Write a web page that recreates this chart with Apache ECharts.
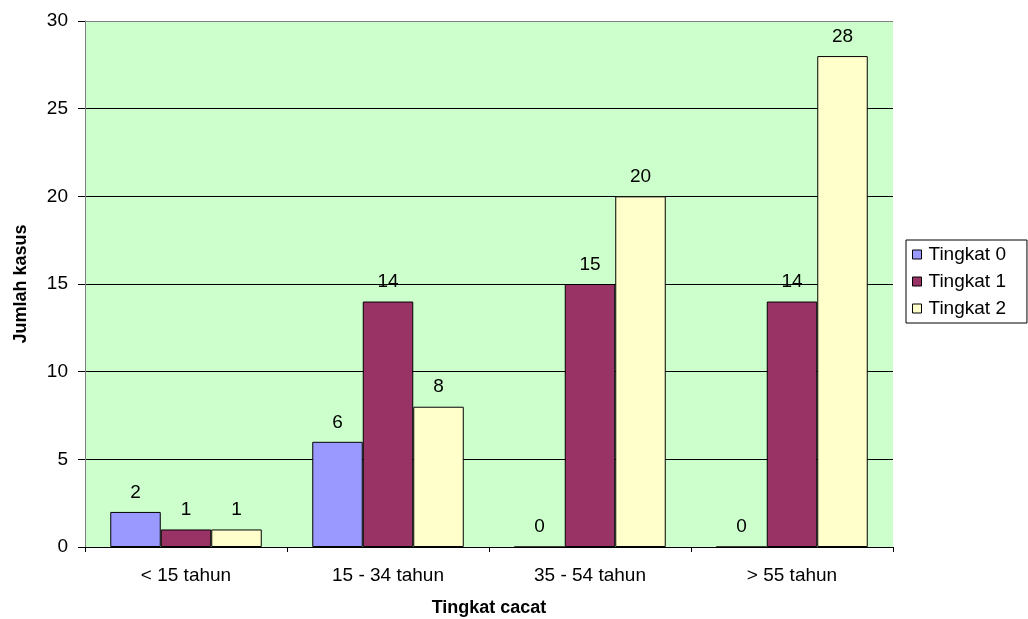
<!DOCTYPE html>
<html>
<head>
<meta charset="utf-8">
<script src="https://cdn.jsdelivr.net/npm/echarts@6/dist/echarts.min.js"></script>
<style>
  html, body { margin: 0; padding: 0; background: #fff; }
  #chart { width: 1028px; height: 619px; }
</style>
</head>
<body>
<div id="chart"></div>
<script>
// Age groups on the x axis
const categories = ['< 15 tahun', '15 - 34 tahun', '35 - 54 tahun', '> 55 tahun'];
// Case counts per disability grade
const tingkat0 = [2, 6, 0, 0];
const tingkat1 = [1, 14, 15, 14];
const tingkat2 = [1, 8, 20, 28];
const seriesNames = ['Tingkat 0', 'Tingkat 1', 'Tingkat 2'];
const yTicks = [0, 5, 10, 15, 20, 25, 30];

const FONT = '"Liberation Sans", Arial, sans-serif';
const colors = ['#9999FF', '#993366', '#FFFFCC'];
const values = [tingkat0, tingkat1, tingkat2];

const chart = echarts.init(document.getElementById('chart'), null, { renderer: 'canvas' });

chart.setOption({
  animation: false,
  backgroundColor: '#ffffff',
  textStyle: { fontFamily: FONT },
  grid: {
    left: 85, right: 135, top: 21, bottom: 72,
    outerBoundsMode: 'none',
    containLabel: false,
    show: true,
    backgroundColor: '#CCFFCC',
    borderWidth: 0
  },
  legend: {
    orient: 'vertical',
    left: 906, top: 240,
    icon: 'rect',
    itemWidth: 9, itemHeight: 9,
    itemGap: 8,
    padding: [5, 21, 5, 6],
    borderColor: '#000', borderWidth: 1,
    backgroundColor: '#fff',
    textStyle: { fontFamily: FONT, fontSize: 19, color: '#000', padding: [0, 0, 0, 2] },
    data: seriesNames.map((n, i) => ({
      name: n,
      itemStyle: { color: colors[i], borderColor: '#000', borderWidth: 1 }
    }))
  },
  xAxis: {
    type: 'category',
    data: categories,
    name: 'Tingkat cacat',
    nameLocation: 'middle',
    nameGap: 52,
    nameTextStyle: { fontFamily: FONT, fontSize: 18, fontWeight: 'bold', color: '#000' },
    axisLine: { show: true, lineStyle: { color: '#000', width: 1 } },
    axisTick: { show: true, alignWithLabel: false, length: 5, lineStyle: { color: '#000' } },
    axisLabel: { fontFamily: FONT, fontSize: 19, color: '#000', margin: 19 },
    splitLine: { show: false }
  },
  yAxis: {
    type: 'value',
    min: yTicks[0], max: yTicks[yTicks.length - 1], interval: 5,
    name: 'Jumlah kasus',
    nameLocation: 'middle',
    nameGap: 55,
    nameRotate: 90,
    nameTextStyle: { fontFamily: FONT, fontSize: 18, fontWeight: 'bold', color: '#000' },
    axisLine: { show: true, lineStyle: { color: '#808080', width: 1 } },
    axisTick: { show: true, length: 7, lineStyle: { color: '#000' } },
    axisLabel: { fontFamily: FONT, fontSize: 19, color: '#000', margin: 17 },
    splitLine: {
      show: true,
      lineStyle: { color: ['#000', '#000', '#000', '#000', '#000', '#000', '#808080'], width: 1 }
    }
  },
  series: seriesNames.map((n, i) => ({
    name: n,
    type: 'bar',
    data: values[i],
    barGap: '0%',
    barCategoryGap: '25%',
    itemStyle: { color: colors[i], borderColor: '#000', borderWidth: 1 },
    label: {
      show: true,
      position: 'top',
      distance: 10,
      fontFamily: FONT,
      fontSize: 19,
      color: '#000'
    }
  }))
});
</script>
</body>
</html>
